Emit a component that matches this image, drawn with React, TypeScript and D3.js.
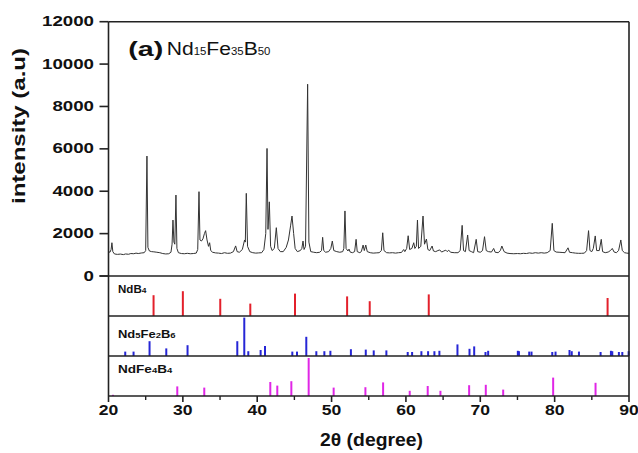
import React from "react";
import * as d3 from "d3";

// XRD pattern of Nd15Fe35B50 : [2θ (deg), intensity]
const pattern: [number, number][] = [
  [20.0, 1150], [20.2, 1120], [20.35, 1250], [20.46, 1570], [20.58, 1150], [20.8, 1040], [21.2, 1020], [21.6, 1035],
  [22.0, 1010], [22.3, 1040], [22.7, 1025], [23.0, 1060], [23.4, 1050], [23.7, 1080], [24.0, 1060], [24.4, 1085],
  [24.8, 1100], [25.0, 1200], [25.17, 5660], [25.3, 1350], [25.5, 1180], [25.8, 1150], [26.1, 1140], [26.5, 1120],
  [26.9, 1100], [27.3, 1060], [27.7, 1040], [28.1, 1050], [28.4, 1120], [28.55, 1500], [28.67, 2640], [28.8, 1600],
  [28.92, 1500], [29.07, 3820], [29.2, 1300], [29.4, 1100], [29.8, 1060], [30.2, 1050], [30.6, 1070], [31.0, 1050],
  [31.4, 1060], [31.8, 1080], [32.0, 1250], [32.17, 3980], [32.3, 1700], [32.5, 1650], [32.7, 1750], [32.9, 2000],
  [33.06, 2140], [33.25, 1700], [33.45, 1400], [33.6, 1570], [33.75, 1200], [34.0, 1120], [34.4, 1090], [34.8, 1080],
  [35.2, 1060], [35.6, 1100], [36.0, 1070], [36.4, 1080], [36.8, 1150], [37.1, 1420], [37.3, 1150], [37.6, 1120],
  [38.0, 1250], [38.3, 1700], [38.4, 1600], [38.53, 3900], [38.7, 1400], [39.0, 1150], [39.4, 1100], [39.8, 1080],
  [40.2, 1090], [40.6, 1100], [40.9, 1250], [41.15, 2000], [41.32, 6020], [41.45, 2200], [41.63, 3500], [41.8, 1400],
  [42.0, 1200], [42.3, 1300], [42.57, 2280], [42.8, 1300], [43.1, 1150], [43.5, 1150], [43.9, 1350], [44.2, 1700],
  [44.5, 2400], [44.68, 2830], [44.9, 2000], [45.1, 1300], [45.4, 1150], [45.8, 1200], [46.0, 1300], [46.16, 1650],
  [46.3, 1250], [46.5, 1400], [46.78, 9050], [46.95, 1600], [47.2, 1150], [47.6, 1120], [48.0, 1100], [48.4, 1120],
  [48.65, 1200], [48.8, 1825], [48.95, 1200], [49.2, 1120], [49.6, 1150], [49.9, 1300], [50.1, 1650], [50.3, 1200],
  [50.7, 1150], [51.1, 1120], [51.5, 1150], [51.65, 1300], [51.8, 3070], [51.95, 1300], [52.2, 1180], [52.35, 1270],
  [52.5, 1130], [52.8, 1100], [53.1, 1150], [53.3, 1730], [53.45, 1150], [53.8, 1100], [54.0, 1150], [54.24, 1460],
  [54.4, 1200], [54.6, 1460], [54.8, 1150], [55.2, 1100], [55.6, 1080], [56.0, 1090], [56.4, 1100], [56.7, 1200],
  [56.88, 2040], [57.05, 1200], [57.4, 1100], [57.8, 1090], [58.2, 1100], [58.6, 1080], [59.0, 1100], [59.4, 1110],
  [59.7, 1250], [59.85, 1150], [60.1, 1300], [60.3, 1900], [60.5, 1250], [60.8, 1300], [61.05, 1570], [61.2, 1300],
  [61.4, 1400], [61.55, 2640], [61.7, 1300], [62.0, 1400], [62.3, 2830], [62.5, 1500], [62.76, 1745], [62.95, 1250],
  [63.2, 1200], [63.52, 1415], [63.7, 1180], [64.0, 1150], [64.3, 1200], [64.55, 1230], [64.8, 1130], [65.1, 1180],
  [65.36, 1220], [65.55, 1150], [65.76, 1220], [66.0, 1120], [66.5, 1100], [67.0, 1100], [67.3, 1200], [67.56, 2390],
  [67.75, 1200], [68.0, 1150], [68.3, 1935], [68.5, 1200], [68.8, 1150], [69.1, 1100], [69.45, 1730], [69.65, 1150],
  [70.0, 1120], [70.3, 1200], [70.57, 1855], [70.8, 1200], [71.1, 1150], [71.5, 1130], [71.8, 1300], [72.0, 1120],
  [72.4, 1100], [72.7, 1200], [72.9, 1415], [73.2, 1150], [73.6, 1080], [74.0, 1060], [74.5, 1050], [75.0, 1060],
  [75.4, 1050], [75.8, 1070], [76.2, 1060], [76.6, 1090], [77.0, 1070], [77.4, 1100], [77.8, 1080], [78.2, 1100],
  [78.6, 1080], [79.0, 1100], [79.4, 1200], [79.68, 2485], [79.9, 1200], [80.2, 1130], [80.6, 1120], [81.0, 1110],
  [81.4, 1100], [81.8, 1330], [82.0, 1120], [82.4, 1100], [82.8, 1080], [83.2, 1070], [83.6, 1070], [84.0, 1080],
  [84.3, 1200], [84.56, 2140], [84.75, 1200], [85.0, 1150], [85.2, 1300], [85.46, 1890], [85.65, 1200], [86.0, 1200],
  [86.27, 1730], [86.45, 1150], [86.8, 1100], [87.2, 1130], [87.5, 1200], [87.75, 1300], [88.0, 1130], [88.3, 1100],
  [88.6, 1200], [88.9, 1700], [89.1, 1200], [89.4, 1100], [89.7, 1080], [90.0, 1070],
];

// Reference stick patterns: [2θ, relative intensity (% of panel height)]
const ndB4: [number, number][] = [
  [26.06, 52], [30.0, 62], [35.03, 43], [39.07, 31], [45.08, 56], [52.09, 49], [55.13, 37], [63.07, 54], [87.12, 45],
];
const nd5Fe2B6: [number, number][] = [
  [22.25, 11], [23.37, 11], [25.52, 37], [27.77, 19], [30.63, 27], [37.32, 37], [38.26, 96], [38.8, 12],
  [40.46, 15], [41.05, 25], [44.72, 11], [45.35, 11], [46.6, 48], [47.95, 12], [49.03, 12], [49.84, 13],
  [52.6, 17], [54.6, 16], [55.67, 14], [57.37, 14], [60.24, 10], [60.83, 10], [62.08, 12], [62.98, 12],
  [63.83, 12], [64.5, 13], [66.93, 29], [68.55, 18], [69.18, 24], [70.7, 10], [71.06, 13], [75.05, 13],
  [75.2, 12], [76.58, 11], [76.89, 11], [79.68, 10], [80.12, 11], [82.0, 15], [82.3, 12], [83.27, 11],
  [86.18, 10], [87.57, 13], [87.75, 12], [88.64, 10], [89.1, 10], [89.95, 12],
];
const ndFe4B4: [number, number][] = [
  [20.6, 3], [29.25, 24], [32.88, 21], [41.76, 35], [42.7, 26], [44.59, 37], [46.92, 95], [50.28, 21],
  [54.55, 22], [56.93, 34], [60.51, 13], [62.93, 25], [64.64, 13], [68.5, 27], [70.74, 28], [73.08, 16],
  [79.8, 46], [85.5, 33],
];

const yTicks = [0, 2000, 4000, 6000, 8000, 10000, 12000];
const xTicks = [20, 30, 40, 50, 60, 70, 80, 90];
const xMinorTicks = [25, 35, 45, 55, 65, 75, 85];

const FONT = "Arial, 'Liberation Sans', Helvetica, sans-serif";
const AXIS = "#222";

export default function App() {
  const left = 108.5;
  const right = 629;
  const top = 21.7;
  const zeroY = 276;
  const panelH = 40;
  const bottom = zeroY + 3 * panelH;

  const x = d3.scaleLinear().domain([20, 90]).range([left, right]);
  const y = d3.scaleLinear().domain([0, 12000]).range([zeroY, top]);
  const line = d3
    .line<[number, number]>()
    .x((d) => x(d[0]))
    .y((d) => y(d[1]));

  const panels = [
    { data: ndB4, color: "#e3202b", base: zeroY + panelH },
    { data: nd5Fe2B6, color: "#2626d6", base: zeroY + 2 * panelH },
    { data: ndFe4B4, color: "#e026e6", base: zeroY + 3 * panelH },
  ];

  const sub = 8;

  return (
    <svg
      width={638}
      height={453}
      style={{ position: "absolute", left: 0, top: 0, background: "#fff" }}
      fontFamily={FONT}
    >
      <rect width={638} height={453} fill="#fff" />
      {/* pattern */}
      <path d={line(pattern) || ""} fill="none" stroke="#333" strokeWidth={1} />

      {/* sticks */}
      {panels.map((p, i) => {
        const s = d3.scaleLinear().domain([0, 100]).range([p.base, p.base - panelH]);
        return (
          <g key={i}>
            {p.data.map((d, j) => (
              <line key={j} x1={x(d[0])} x2={x(d[0])} y1={s(0)} y2={s(d[1])} stroke={p.color} strokeWidth={2} />
            ))}
          </g>
        );
      })}

      {/* frame */}
      <line x1={left} x2={right} y1={top} y2={top} stroke={AXIS} strokeWidth={1.6} />
      <line x1={left} x2={left} y1={top} y2={bottom} stroke={AXIS} strokeWidth={1.6} />
      <line x1={right} x2={right} y1={top} y2={bottom} stroke={AXIS} strokeWidth={1.6} />
      {[0, 1, 2, 3].map((k) => (
        <line key={k} x1={left - (k === 0 ? 9 : 0)} x2={right} y1={zeroY + k * panelH} y2={zeroY + k * panelH} stroke={AXIS} strokeWidth={1.6} />
      ))}

      {/* y ticks */}
      {yTicks.map((t) => {
        const label = String(t);
        const len = label.length * 10.4;
        return (
          <g key={t}>
            <line x1={left - 9} x2={left} y1={y(t)} y2={y(t)} stroke={AXIS} strokeWidth={1.6} />
            <text x={94 - len} y={y(t) + 4.5} fontSize={15} fontWeight="bold" fill="#111" textLength={len} lengthAdjust="spacingAndGlyphs">
              {label}
            </text>
          </g>
        );
      })}

      {/* x ticks */}
      {xTicks.map((t) => {
        const len = 19.5;
        return (
          <g key={t}>
            <line x1={x(t)} x2={x(t)} y1={bottom} y2={bottom + 6} stroke={AXIS} strokeWidth={1.6} />
            <text x={x(t) - len / 2} y={415} fontSize={15} fontWeight="bold" fill="#111" textLength={len} lengthAdjust="spacingAndGlyphs">
              {t}
            </text>
          </g>
        );
      })}
      {xMinorTicks.map((t) => (
        <line key={t} x1={x(t)} x2={x(t)} y1={bottom} y2={bottom + 4} stroke={AXIS} strokeWidth={1.4} />
      ))}

      {/* axis titles */}
      <text x={320} y={446} fontSize={18} fontWeight="bold" fill="#111" textLength={103} lengthAdjust="spacingAndGlyphs">
        2θ (degree)
      </text>
      <g transform="translate(24.5,126) rotate(-90)">
        <text x={-78} y={0} fontSize={18} fontWeight="bold" fill="#111" textLength={156} lengthAdjust="spacingAndGlyphs">
          intensity (a.u)
        </text>
      </g>

      {/* title */}
      <text x={128.3} y={56} fontSize={21} fontWeight="bold" fill="#111" textLength={35} lengthAdjust="spacingAndGlyphs">
        (a)
      </text>
      <g transform="translate(166.7,55) scale(1.14,1)">
        <text x={0} y={0} fontSize={18.5} fill="#111">
          Nd<tspan fontSize={10}>15</tspan>Fe<tspan fontSize={10}>35</tspan>B<tspan fontSize={10}>50</tspan>
        </text>
      </g>

      {/* phase labels */}
      <g transform="translate(118,293) scale(1.05,1)">
        <text x={0} y={0} fontSize={11} fontWeight="bold" fill="#111">
          NdB<tspan fontSize={sub}>4</tspan>
        </text>
      </g>
      <g transform="translate(118,338) scale(1.18,1)">
        <text x={0} y={0} fontSize={11} fontWeight="bold" fill="#111">
          Nd<tspan fontSize={sub}>5</tspan>Fe<tspan fontSize={sub}>2</tspan>B<tspan fontSize={sub}>6</tspan>
        </text>
      </g>
      <g transform="translate(118,373) scale(1.18,1)">
        <text x={0} y={0} fontSize={11.5} fontWeight="bold" fill="#111">
          NdFe<tspan fontSize={sub}>4</tspan>B<tspan fontSize={sub}>4</tspan>
        </text>
      </g>
    </svg>
  );
}
